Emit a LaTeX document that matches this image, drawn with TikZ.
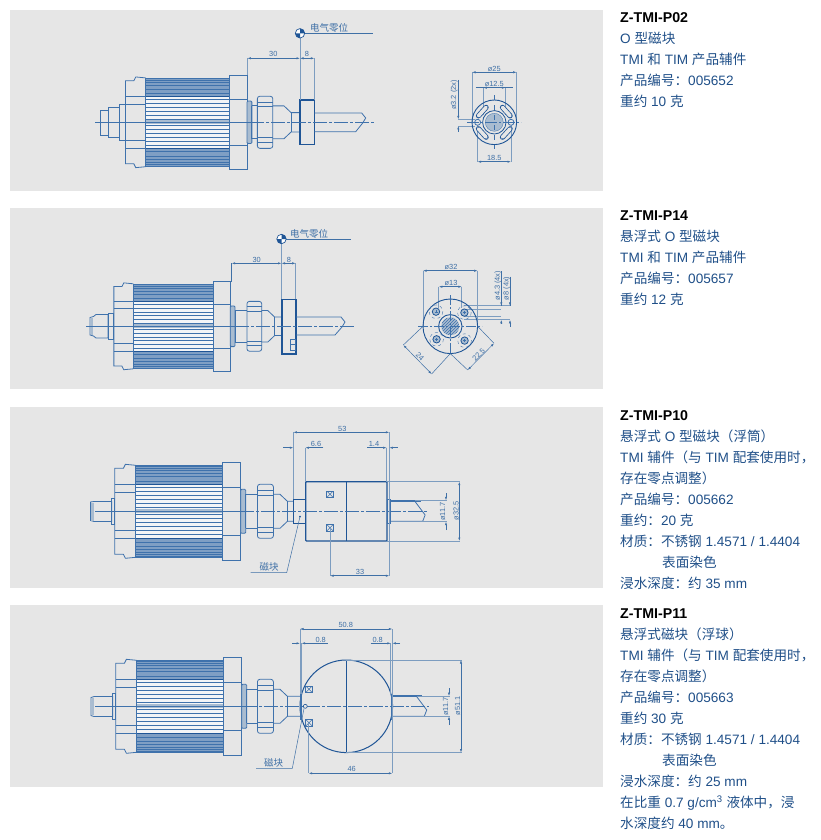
\documentclass[tikz,border=0pt]{standalone}
\usepackage{fontspec}
\setmainfont{Liberation Sans}
\newfontfamily\cjk{Noto Sans CJK SC}
\usetikzlibrary{arrows.meta,patterns}
\definecolor{panelgray}{HTML}{E6E6E6}
\definecolor{partblue}{HTML}{3F72AC}
\definecolor{darkblue}{HTML}{1F5596}
\definecolor{dimblue}{HTML}{3F70A6}
\definecolor{extblue}{HTML}{7D9DC0}
\definecolor{bandblue}{HTML}{7F9FC4}
\definecolor{ribwhite}{HTML}{F3F5F7}
\definecolor{shadeblue}{HTML}{A9BCD0}
\definecolor{txtblue}{HTML}{1F4F88}
\newcommand{\zh}[1]{{\cjk #1}}
\tikzset{
    part/.style={draw=partblue,line width=0.8pt},
    thickpart/.style={draw=darkblue,line width=1.2pt},
    axisline/.style={draw=partblue,line width=0.6pt},
    axisdash/.style={draw=partblue,line width=0.6pt,dash pattern=on 14pt off 2pt on 3pt off 2pt},
    extline/.style={draw=extblue,line width=0.7pt},
    dimline/.style={draw=dimblue,line width=0.5pt,{Latex[length=3.5pt,width=2.2pt]}-{Latex[length=3.5pt,width=2.2pt]}},
    dimleft/.style={draw=dimblue,line width=0.5pt,-{Latex[length=3.5pt,width=2.2pt]}},
    plainline/.style={draw=dimblue,line width=0.5pt},
    dimlabel/.style={inner sep=0pt,text=dimblue,font=\fontsize{7.4}{8}\selectfont},
    zhlabel/.style={inner sep=0pt,text=dimblue,font=\cjk\fontsize{9.5}{10}\selectfont},
    infotext/.style={anchor=north west,align=left,inner sep=0pt,text=txtblue,font=\fontsize{13.6}{21}\selectfont},
    crossbox/.style={draw=partblue,line width=0.6pt,rectangle,inner sep=0pt,minimum size=6.6pt,
        path picture={\draw[partblue,line width=0.5pt] (path picture bounding box.south west) -- (path picture bounding box.north east)
            (path picture bounding box.north west) -- (path picture bounding box.south east);}},
}
%% sensor body: rib x, axis y, scale, nut shift, tube stretch, neck end
\newcommand{\sensorbody}[6]{
    \begin{scope}[shift={(#1,#2)},scale=#3]
        \pgfmathsetmacro{\nutl}{121.7+#4}
        \pgfmathsetmacro{\nutr}{137.7+#4}
        \pgfmathsetmacro{\tuber}{144.3+#4+#5}
        \pgfmathsetmacro{\coner}{151.7+#4+#5}
        %% ribs
        \fill[ribwhite] (0,-27) rectangle (86.6,27);
        \fill[bandblue] (0,-45.8) rectangle (86.6,-27);
        \fill[bandblue] (0,27) rectangle (86.6,45.8);
        \foreach \ry in {30.5,34.7,38.2,41,43.3,45.2} {
            \draw[partblue,line width=0.55pt] (0,\ry) -- (86.6,\ry);
            \draw[partblue,line width=0.55pt] (0,-\ry) -- (86.6,-\ry);
        }
        \foreach \ry in {3.5,7.5,11.5,15.5,19.5,23.5} {
            \draw[partblue,line width=0.7pt] (0,\ry) -- (86.6,\ry);
            \draw[partblue,line width=0.7pt] (0,-\ry) -- (86.6,-\ry);
        }
        \draw[darkblue,line width=1.3pt] (0,-27) -- (86.6,-27) (0,27) -- (86.6,27);
        \fill[shadeblue] (0,-2) rectangle (86.6,2);
        \fill[white] (4,-0.7) rectangle (9,0.7);
        \fill[white] (56,-0.7) rectangle (60,0.7);
        \fill[white] (63,-0.7) rectangle (67,0.7);
        \draw[part] (0,-45.8) rectangle (86.6,45.8);
        %% cap
        \draw[part] (0,-46) -- (-10.3,-47) -- (-12.3,-43) -- (-21,-43) -- (-21,43) -- (-12.3,43) -- (-10.3,47) -- (0,46);
        \foreach \ry in {19,26.7} {
            \draw[part] (-21,\ry) -- (0,\ry);
            \draw[part] (-21,-\ry) -- (0,-\ry);
        }
        %% flange
        \draw[part] (86.6,-48.7) rectangle (105,48.7);
        \draw[part] (86.6,-24) -- (105,-24);
        \draw[part] (86.6,24) -- (105,24);
        %% collar and tube
        \draw[part,fill=shadeblue,rounded corners=1pt] (105,-22) rectangle (110,22);
        \draw[part] (110,-17) -- (\nutl,-17) (110,17) -- (\nutl,17) (110,-17) -- (110,17);
        %% nut
        \draw[part,rounded corners=2.5pt] (\nutl,-27) rectangle (\nutr,27);
        \draw[part] (\nutl,-16) -- (\nutr,-16) (\nutl,16) -- (\nutr,16);
        \draw[part] (\nutl,-21) -- (\nutr,-21) (\nutl,21) -- (\nutr,21);
        %% cone and neck
        \draw[part] (\nutr,-17) -- (\tuber,-17) -- (\coner,-10) -- (#6,-10);
        \draw[part] (\nutr,17) -- (\tuber,17) -- (\coner,10) -- (#6,10);
        \draw[part] (\coner,-10) -- (\coner,10);
    \end{scope}
}
%% shaft end: left x, top y, right x, bottom y
\newcommand{\shaftend}[4]{
    \draw[part] (#1,#2) -- (#3,#2) -- ({#3+4},{#2+5}) -- ({#3+1},{#2+10}) -- ({#3-6},#4) -- (#1,#4);
}
%% float shaft: left x, axis y
\newcommand{\floatshaft}[2]{
    \begin{scope}[shift={(#1,#2)}]
        \draw[part,line width=1.4pt] (0,-10.2) -- (30,-10.2);
        \draw[part] (0,10) -- (32,10) -- (34.3,4) -- (34.3,3.5) -- (24,-10.2);
    \end{scope}
}
\begin{document}
\begin{tikzpicture}[x=1pt,y=-1pt]
    \useasboundingbox (0,0) rectangle (820,840);
    %% panels
    \foreach \py/\pz in {10/191,208/389,407/588,605/787} {
        \fill[panelgray] (10,\py) rectangle (603,\pz);
    }

    %% ---------- P02 ----------
    \sensorbody{145.7}{122.3}{0.965}{-6}{5}{160}
    \draw[part] (100.7,110) -- (108,110) -- (108,135) -- (100.7,135) -- cycle;
    \draw[part] (108,107) rectangle (119.3,137.5);
    \draw[part] (119.3,104) rectangle (125,140.7);
    \draw[thickpart] (300,100) rectangle (314.3,144.3);
    \shaftend{314.3}{113}{361.7}{131.7}
    \draw[axisline] (95,122.3) -- (250,122.3);
    \draw[axisdash] (250,122.3) -- (375,122.3);
    %% datum
    \draw[extline,line width=0.9pt] (300,38) -- (300,100);
    \draw[extline] (314.3,58) -- (314.3,100);
    \draw[extline] (247.3,58) -- (247.3,75);
    \draw[plainline] (305,33.3) -- (372.7,33.3);
    \draw[darkblue,line width=0.7pt,fill=white] (300,33.3) circle (4.7);
    \fill[darkblue] (300,33.3) -- (295.3,33.3) arc (180:90:4.7) -- cycle;
    \fill[darkblue] (300,33.3) -- (304.7,33.3) arc (0:-90:4.7) -- cycle;
    \node[zhlabel] (zeroA) at (329,27.8) {电气零位};
    \draw[dimline] (247.3,58.3) -- (300,58.3);
    \draw[dimline] (300,58.3) -- (314.3,58.3);
    \node[dimlabel] (dimAthirty) at (273.3,54) {30};
    \node[dimlabel] (dimAeight) at (307,54) {8};

    %% end view P02
    \begin{scope}[shift={(494.3,122.3)}]
        %% dimension lines
        \draw[extline] (-22.3,-50) -- (-22.3,0);
        \draw[extline] (22.3,-50) -- (22.3,0);
        \draw[extline] (-11,-34.6) -- (-11,-7);
        \draw[extline] (11,-34.6) -- (11,-7);
        \draw[extline] (-16.7,0) -- (-16.7,39.4);
        \draw[extline] (16.7,0) -- (16.7,39.4);
        \draw[extline] (-36,-3) -- (-19,-3);
        \draw[extline] (-36,3.7) -- (-19,3.7);
        %% disc
        \draw[darkblue,line width=0.9pt] (0,0) circle (22.3);
        \draw[darkblue,line width=0.8pt,fill=panelgray] (0,0) circle (11.7);
        \draw[partblue,line width=0.3pt,fill=shadeblue] (0,0) circle (9);
        \foreach \sx/\sy in {1/1,1/-1,-1/1,-1/-1} {
            \draw[darkblue,line width=5.2pt,line cap=round] ({\sx*8.2},{\sy*14.9}) -- ({\sx*15.8},{\sy*6.5});
            \draw[panelgray,line width=3.6pt,line cap=round] ({\sx*8.2},{\sy*14.9}) -- ({\sx*15.8},{\sy*6.5});
        }
        \foreach \hx in {-16.7,16.7} {
            \draw[partblue,line width=0.8pt,fill=panelgray] (\hx,0) circle (3);
        }
        %% centre lines
        \draw[axisline,dash pattern=on 12pt off 2pt on 2pt off 2pt] (-27,0) -- (27,0);
        \draw[axisline,dash pattern=on 5pt off 5pt] (0,-27) -- (0,27);
        \draw[dimline] (-22.3,-50) -- (22.3,-50);
        \draw[plainline] (-18.5,-34.6) -- (18.5,-34.6);
        \draw[dimline] (-11,-34.6) -- (11,-34.6);
        \draw[dimline] (-16.7,39.4) -- (16.7,39.4);
        \draw[dimleft] (-36,-42.3) -- (-36,-3);
        \draw[dimleft] (-36,9.4) -- (-36,3.7);
        \node[dimlabel] (dimAtwentyfive) at (0,-53.5) {ø25};
        \node[dimlabel] (dimAtwelve) at (0,-38.2) {ø12.5};
        \node[dimlabel] (dimAeighteen) at (0,35.8) {18.5};
        \node[dimlabel,rotate=90] (dimAthree) at (-40,-27.3) {ø3.2 (2x)};
    \end{scope}

    %% ---------- P14 ----------
    \sensorbody{133.3}{326.3}{0.924}{1.3}{0}{160.4}
    \draw[part] (93.5,316.5) -- (96,314.5) -- (108,314.5) -- (108,338) -- (96,338) -- (93.5,336) -- (90,335) -- (90,317.5) -- cycle;
    \fill[shadeblue] (90.5,318) rectangle (93,335);
    \draw[part] (108,313.5) rectangle (113.8,339);
    \draw[thickpart] (282,299.3) rectangle (296,354);
    \draw[part] (290,339.3) rectangle (295.7,350);
    \draw[part] (290,344.5) -- (295.7,344.5);
    \shaftend{296}{317}{341}{335}
    \draw[axisline] (86,326.3) -- (235,326.3);
    \draw[axisdash] (235,326.3) -- (354,326.3);
    %% datum
    \draw[extline,line width=0.9pt] (281.5,244) -- (281.5,299.3);
    \draw[extline] (295.7,263.3) -- (295.7,299.3);
    \draw[plainline,line width=0.6pt] (231.7,263.3) -- (231.7,281.7);
    \draw[plainline] (286,239) -- (350.7,239);
    \draw[darkblue,line width=0.7pt,fill=white] (281.5,239) circle (4.7);
    \fill[darkblue] (281.5,239) -- (276.8,239) arc (180:90:4.7) -- cycle;
    \fill[darkblue] (281.5,239) -- (286.2,239) arc (0:-90:4.7) -- cycle;
    \node[zhlabel] (zeroB) at (309,233.5) {电气零位};
    \draw[dimline] (231.7,263.3) -- (281.5,263.3);
    \draw[dimline] (281.5,263.3) -- (295.7,263.3);
    \node[dimlabel] (dimBthirty) at (256.7,259.5) {30};
    \node[dimlabel] (dimBeight) at (289,259.5) {8};

    %% end view P14
    \begin{scope}[shift={(450.3,326.3)}]
        %% dimension lines
        \draw[extline] (-27.3,-55.6) -- (-27.3,0);
        \draw[extline] (27.3,-55.6) -- (27.3,0);
        \draw[extline] (-11.5,-39.6) -- (-11.5,-18);
        \draw[extline] (11.5,-39.6) -- (11.5,-18);
        \draw[extline] (14,-20.5) -- (59.7,-20.5);
        \draw[extline] (14,-17.3) -- (50.7,-17.3);
        \draw[extline] (14,-10) -- (50.7,-10);
        \draw[extline] (14,-6.5) -- (59.7,-6.5);
        %% disc
        \draw[darkblue,line width=0.9pt] (0,0) circle (27.3);
        \draw[darkblue,line width=0.9pt,fill=panelgray] (0,0) circle (11.7);
        \fill[shadeblue] (0,0) circle (9);
        \fill[pattern=north east lines,pattern color=partblue] (0,0) circle (9);
        \foreach \hx/\hy in {-14.3/-14.6,14.1/-13.7,-13.7/13,14.3/14.3} {
            \draw[partblue,line width=0.4pt,dashed] (\hx,\hy) circle (6.8);
            \draw[darkblue,line width=0.8pt,fill=shadeblue] (\hx,\hy) circle (3.7);
            \draw[partblue,line width=0.4pt] ({\hx-1.5},\hy) -- ({\hx+1.5},\hy) (\hx,{\hy-1.5}) -- (\hx,{\hy+1.5});
        }
        %% centre lines
        \draw[axisline,dash pattern=on 10pt off 2pt on 2pt off 2pt] (-32,0) -- (32,0);
        \draw[axisline,dash pattern=on 10pt off 2pt on 2pt off 2pt] (0,-31) -- (0,27);
        %% diagonals
        \draw[plainline] (-47,18.7) -- (-27.3,0);
        \draw[plainline] (-18.7,47.7) -- (0,27.3);
        \draw[plainline] (43.7,17) -- (27.3,0);
        \draw[plainline] (17.4,43.7) -- (0,27.3);
        \draw[dimline] (-47,18.7) -- (-18.7,47.7);
        \draw[dimline] (17.4,43.7) -- (43.7,17);
        \draw[dimline] (-27.3,-55.6) -- (27.3,-55.6);
        \draw[dimline] (-11.5,-39.6) -- (11.5,-39.6);
        \draw[plainline] (51,-55.3) -- (51,-20);
        \draw[dimleft] (51,-40) -- (51,-20.5);
        \draw[dimleft] (51,-3.3) -- (51,-6.5);
        \draw[plainline] (59.7,-49.6) -- (59.7,-20.5);
        \draw[dimleft] (59.7,-30) -- (59.7,-20.5);
        \draw[dimleft] (59.7,0.4) -- (59.7,-6.5);
        \node[dimlabel] (dimBthirtytwo) at (0.7,-59.8) {ø32};
        \node[dimlabel] (dimBthirteen) at (0.7,-43.8) {ø13};
        \node[dimlabel,rotate=90] (dimBfour) at (47.7,-40.6) {ø4.3 (4x)};
        \node[dimlabel,rotate=90] (dimBeightx) at (56.5,-38) {ø8 (4x)};
        \node[dimlabel,rotate=-45] (dimBtwentyfour) at (-30.3,30.4) {24};
        \node[dimlabel,rotate=45] (dimBtwentytwo) at (28.4,28.7) {22.5};
    \end{scope}

    %% ---------- P10 ----------
    \sensorbody{135.7}{511.3}{1}{0}{0}{157.6}
    \draw[part] (94,501.5) -- (111.7,501.5) -- (111.7,521.5) -- (94,521.5) -- (90.5,520.5) -- (90.5,502) -- cycle;
    \fill[shadeblue] (91,502.5) rectangle (93.5,520.5);
    \draw[part] (111.7,498) rectangle (114.7,524.6);
    \draw[thickpart] (293.3,499.3) rectangle (305.3,523.3);
    \draw[thickpart,rounded corners=0.8pt] (305.7,481.7) rectangle (387,541);
    \draw[thickpart] (346.3,481.7) -- (346.3,541);
    \draw[part,line width=1pt] (387.3,499.3) rectangle (390.7,523);
    \floatshaft{390.7}{511.3}
    \draw[axisline] (95,511.3) -- (240,511.3);
    \draw[axisdash] (240,511.3) -- (427.3,511.3);
    \node[crossbox] (magCa) at (330,494.3) {};
    \node[crossbox] (magCb) at (330,527.7) {};
    %% dimensions
    \draw[extline] (293.3,432.3) -- (293.3,499.3);
    \draw[extline] (305.3,447.7) -- (305.3,481.7);
    \draw[extline] (386.7,447.7) -- (386.7,481.7);
    \draw[extline] (389.3,432.3) -- (389.3,575.7);
    \draw[extline] (330,527.7) -- (330,575.7);
    \draw[extline] (387,481.7) -- (460,481.7);
    \draw[extline] (387,541) -- (460,541);
    \draw[extline] (415,500.3) -- (447,500.3);
    \draw[extline] (420,521.7) -- (447,521.7);
    \draw[dimline] (293.3,432.3) -- (389.3,432.3);
    \draw[dimleft] (323.3,447.7) -- (305.3,447.7);
    \draw[dimleft] (283,447.7) -- (293.3,447.7);
    \draw[dimleft] (367.3,447.7) -- (386.7,447.7);
    \draw[dimleft] (397.7,447.7) -- (389.3,447.7);
    \draw[dimline] (330,575.7) -- (389.3,575.7);
    \draw[dimline] (459.3,481.7) -- (459.3,541);
    \draw[dimleft] (446,493.3) -- (446,500.3);
    \draw[dimleft] (446,530) -- (446,521.7);
    \node[dimlabel] (dimCfiftythree) at (342.3,428.8) {53};
    \node[dimlabel] (dimCsix) at (316,444) {6.6};
    \node[dimlabel] (dimCone) at (374,444) {1.4};
    \node[dimlabel] (dimCthirtythree) at (360,572) {33};
    \node[dimlabel,rotate=90] (dimCeleven) at (442.7,511.7) {ø11.7};
    \node[dimlabel,rotate=90] (dimCthirtytwo) at (456,511) {ø32.5};
    %% magnet leader
    \fill[darkblue] (300,516.7) circle (1);
    \draw[plainline] (250.7,572.7) -- (286.7,572.7) -- (300,516.7);
    \node[zhlabel] (magCtext) at (269,567) {磁块};

    %% ---------- P11 ----------
    \sensorbody{136.7}{706.3}{1}{-1}{0}{163.3}
    \draw[part] (94,696.5) -- (112.7,696.5) -- (112.7,716.5) -- (94,716.5) -- (91,715.5) -- (91,697.5) -- cycle;
    \fill[shadeblue] (91.5,698) rectangle (94,715);
    \draw[part] (112.7,693) rectangle (115.7,719.6);
    %% float ball
    \draw[thickpart,line width=1pt] (346.3,706.3) circle (46.3);
    \draw[thickpart,line width=0.9pt] (346.3,660) -- (346.3,752.6);
    \draw[part,line width=1.4pt] (301,693.5) -- (301,719.5);
    \draw[part,line width=1.4pt] (391.5,693.5) -- (391.5,719.5);
    \floatshaft{392.3}{706.3}
    \draw[axisline] (95,706.3) -- (243,706.3);
    \draw[axisdash] (243,706.3) -- (429,706.3);
    \node[crossbox] (magDa) at (309,689.3) {};
    \node[crossbox] (magDb) at (309,722.7) {};
    \draw[darkblue,line width=0.6pt,fill=panelgray] (305.3,706.3) circle (2);
    %% dimensions
    \draw[extline] (300,629) -- (300,693.5);
    \draw[extline] (301.6,643.3) -- (301.6,693.5);
    \draw[extline] (392.3,629) -- (392.3,773.3);
    \draw[extline] (390.8,643.3) -- (390.8,693.5);
    \draw[extline] (308.7,722.7) -- (308.7,773.3);
    \draw[extline] (346.3,660) -- (462,660);
    \draw[extline] (346.3,752.6) -- (462,752.6);
    \draw[extline] (417,696.1) -- (450,696.1);
    \draw[extline] (420,716.3) -- (450,716.3);
    \draw[dimline] (300,629) -- (392.3,629);
    \draw[dimleft] (292.3,643.3) -- (300,643.3);
    \draw[dimleft] (327.7,643.3) -- (301.6,643.3);
    \draw[dimleft] (370.7,643.3) -- (390.8,643.3);
    \draw[dimleft] (400,643.3) -- (392.3,643.3);
    \draw[dimline] (308.7,773.3) -- (392.3,773.3);
    \draw[dimline] (461,660) -- (461,752.6);
    \draw[dimleft] (449,688.3) -- (449,696.1);
    \draw[dimleft] (449,725) -- (449,716.3);
    \node[dimlabel] (dimDfifty) at (345.7,625) {50.8};
    \node[dimlabel] (dimDleft) at (320.7,639.7) {0.8};
    \node[dimlabel] (dimDright) at (377.7,639.7) {0.8};
    \node[dimlabel] (dimDfortysix) at (351.7,769.4) {46};
    \node[dimlabel,rotate=90] (dimDeleven) at (445.7,706.5) {ø11.7};
    \node[dimlabel,rotate=90] (dimDfiftyone) at (457.7,706) {ø51.1};
    %% magnet leader
    \draw[plainline] (256,768.3) -- (292.3,768.3) -- (304,708.5);
    \node[zhlabel] (magDtext) at (273.7,762.6) {磁块};

    %% ---------- texts ----------
    \node[infotext] (infoA) at (620,12) {\textcolor{black}{\bfseries\fontsize{14.2}{21}\selectfont Z-TMI-P02}\\
        O \zh{型磁块}\\
        TMI \zh{和} TIM \zh{产品辅件}\\
        \zh{产品编号：}005652\\
        \zh{重约} 10 \zh{克}};
    \node[infotext] (infoB) at (620,211) {\textcolor{black}{\bfseries\fontsize{14.2}{21}\selectfont Z-TMI-P14}\\
        \zh{悬浮式} O \zh{型磁块}\\
        TMI \zh{和} TIM \zh{产品辅件}\\
        \zh{产品编号：}005657\\
        \zh{重约} 12 \zh{克}};
    \node[infotext] (infoC) at (620,410) {\textcolor{black}{\bfseries\fontsize{14.2}{21}\selectfont Z-TMI-P10}\\
        \zh{悬浮式} O \zh{型磁块（浮筒）}\\
        TMI \zh{辅件（与} TIM \zh{配套使用时，}\\
        \zh{存在零点调整）}\\
        \zh{产品编号：}005662\\
        \zh{重约：}20 \zh{克}\\
        \zh{材质：不锈钢} 1.4571 / 1.4404\\
        \hspace*{42pt}\zh{表面染色}\\
        \zh{浸水深度：约} 35 mm};
    \node[infotext] (infoD) at (620,609) {\textcolor{black}{\bfseries\fontsize{14.2}{21}\selectfont Z-TMI-P11}\\
        \zh{悬浮式磁块（浮球）}\\
        TMI \zh{辅件（与} TIM \zh{配套使用时，}\\
        \zh{存在零点调整）}\\
        \zh{产品编号：}005663\\
        \zh{重约} 30 \zh{克}\\
        \zh{材质：不锈钢} 1.4571 / 1.4404\\
        \hspace*{42pt}\zh{表面染色}\\
        \zh{浸水深度：约} 25 mm\\
        \zh{在比重} 0.7 g/cm\textsuperscript{3} \zh{液体中，浸}\\
        \zh{水深度约} 40 mm\zh{。}};
\end{tikzpicture}
\end{document}
